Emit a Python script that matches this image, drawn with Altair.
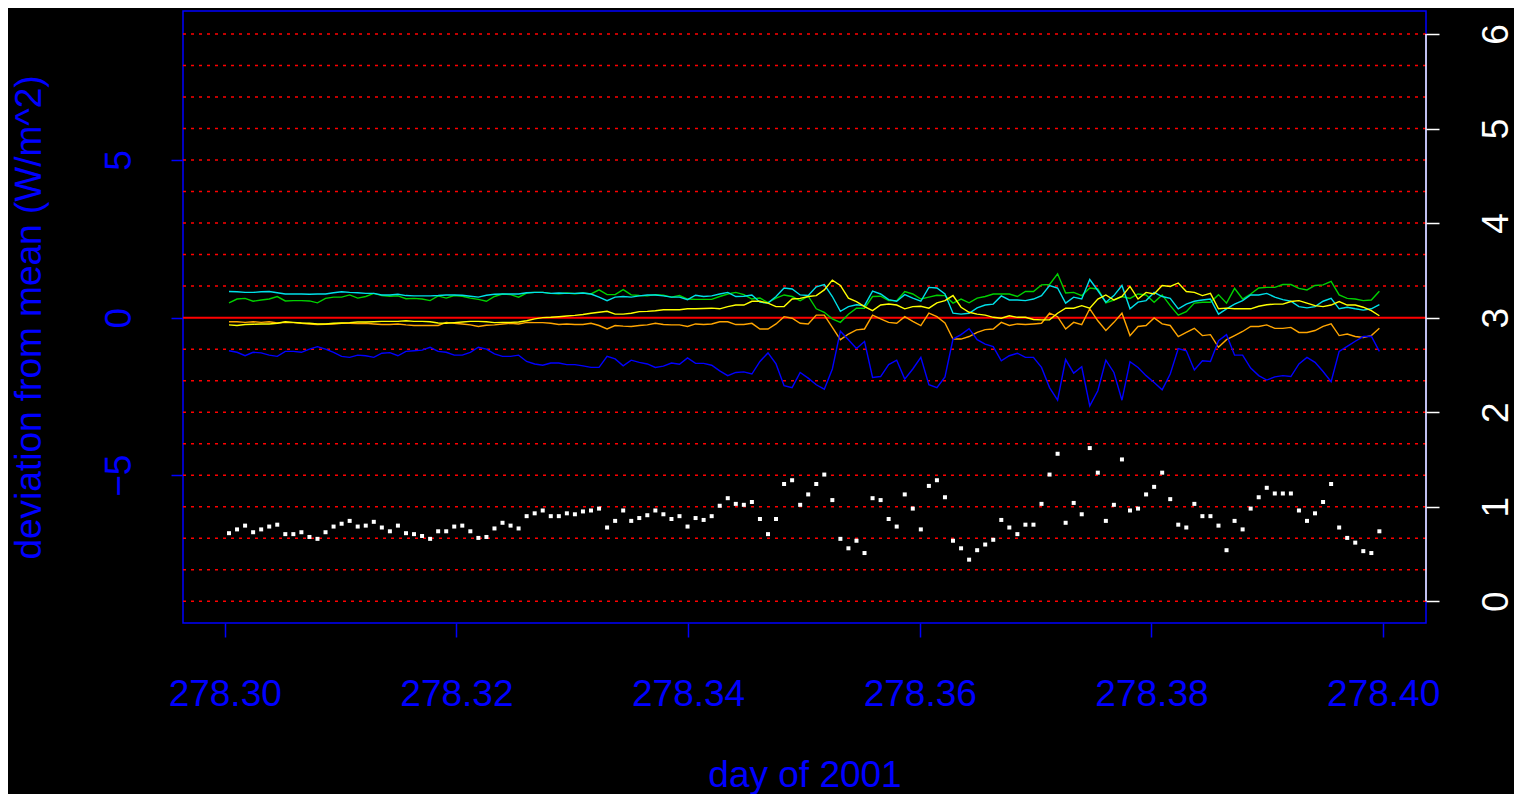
import altair as alt
import pandas as pd

# ---------------- data ----------------
start_day = 278.30037          # first sample (day of 2001)
step_day = 1 / 1440            # one sample per minute

green = [0.47,0.59,0.61,0.52,0.56,0.59,0.67,0.53,0.54,0.54, 0.53,0.47,0.61,0.65,0.65,0.72,0.62,0.67,0.77,0.70,
         0.68,0.69,0.60,0.61,0.59,0.54,0.69,0.62,0.70,0.68, 0.62,0.58,0.52,0.67,0.75,0.73,0.65,0.78,0.80,0.80,
         0.77,0.76,0.78,0.76,0.78,0.75,0.88,
         0.73,0.73,0.89,0.72,0.70,0.69,0.73,0.71,0.65,0.70, 0.59,0.58,0.58,0.58,0.67,0.75,0.80,0.73,0.59,0.62,
         0.48,0.62,0.72,0.67,0.54,0.68,0.28,0.17,-0.04,-0.15, 0.11,0.30,0.30,0.67,0.68,0.54,0.54,0.83,0.75,0.59,
         0.65,0.71,0.70,0.46,0.59,0.47,0.62,0.67,0.75,0.75, 0.75,0.67,
         0.83,0.83,1.04,1.05,1.39,0.78,0.80,0.70,0.94,0.91, 0.47,0.56,0.67,0.61,0.75,0.72,0.49,0.72,0.38,0.08,
         0.19,0.46,0.49,0.49,0.73,0.46,0.93,0.59,0.75,0.94, 0.96,0.96,1.05,1.05,0.93,0.88,1.02,1.04,1.15,0.72,
         0.61,0.59,0.54,0.56,0.84]

cyan = [0.83,0.82,0.80,0.80,0.82,0.83,0.79,0.75,0.75,0.75, 0.74,0.75,0.75,0.79,0.82,0.80,0.79,0.77,0.77,0.72,
        0.72,0.74,0.70,0.69,0.69,0.69,0.70,0.72,0.72,0.71, 0.68,0.65,0.71,0.74,0.75,0.75,0.75,0.79,0.80,0.80,
        0.77,0.78,0.77,0.77,0.78,0.75,0.65,
        0.54,0.65,0.67,0.65,0.69,0.72,0.72,0.69,0.65,0.65, 0.57,0.71,0.67,0.69,0.75,0.80,0.67,0.68,0.72,0.49,
        0.46,0.67,0.94,0.91,0.72,0.70,0.98,1.05,0.67,0.20, 0.35,0.41,0.38,0.84,0.75,0.57,0.52,0.73,0.62,0.52,
        0.96,0.94,0.75,0.14,0.11,0.14,0.31,0.40,0.43,0.69, 0.56,0.56,
        0.54,0.59,0.70,1.02,0.94,0.46,0.65,0.59,1.21,0.86, 0.49,0.70,1.02,0.28,0.49,0.54,0.80,0.67,0.61,0.28,
        0.43,0.52,0.56,0.59,0.11,0.28,0.43,0.54,0.72,0.72, 0.77,0.65,0.57,0.52,0.35,0.31,0.35,0.52,0.61,0.28,
        0.33,0.28,0.24,0.28,0.41]

orange = [-0.13,-0.13,-0.15,-0.13,-0.15,-0.13,-0.17,-0.15,-0.16,-0.18, -0.20,-0.22,-0.21,-0.20,-0.18,-0.18,-0.19,-0.18,-0.20,-0.22,
          -0.22,-0.20,-0.23,-0.25,-0.25,-0.25,-0.25,-0.15,-0.18,-0.20, -0.23,-0.28,-0.24,-0.23,-0.20,-0.18,-0.20,-0.15,-0.16,-0.16,
          -0.18,-0.22,-0.20,-0.22,-0.22,-0.18,-0.25,
          -0.36,-0.25,-0.27,-0.28,-0.25,-0.23,-0.18,-0.22,-0.23,-0.23, -0.28,-0.20,-0.22,-0.20,-0.13,-0.13,-0.22,-0.22,-0.18,-0.36,
          -0.36,-0.20,0.03,-0.02,-0.18,-0.20,0.08,0.08,-0.31,-0.70, -0.52,-0.39,-0.36,0.08,-0.04,-0.15,-0.18,0.03,-0.12,-0.25,
          0.14,0.03,-0.17,-0.68,-0.68,-0.60,-0.47,-0.38,-0.36,-0.15, -0.25,-0.20,
          -0.22,-0.20,-0.18,0.14,0.03,-0.36,-0.15,-0.22,0.28,-0.10, -0.41,-0.15,0.14,-0.57,-0.28,-0.25,-0.01,-0.20,-0.25,-0.60,
          -0.47,-0.34,-0.57,-0.54,-0.94,-0.70,-0.57,-0.44,-0.28,-0.28, -0.23,-0.34,-0.34,-0.31,-0.47,-0.47,-0.41,-0.28,-0.20,-0.57,
          -0.52,-0.60,-0.63,-0.57,-0.34]

yellow = [-0.23,-0.25,-0.22,-0.21,-0.20,-0.20,-0.18,-0.13,-0.15,-0.17, -0.18,-0.20,-0.20,-0.18,-0.17,-0.16,-0.14,-0.14,-0.13,-0.12,
          -0.12,-0.12,-0.10,-0.12,-0.12,-0.13,-0.17,-0.18,-0.16,-0.14, -0.12,-0.12,-0.13,-0.16,-0.15,-0.15,-0.14,-0.10,-0.04,0.00,
          0.01,0.03,0.05,0.07,0.10,0.14,0.17,
          0.20,0.11,0.11,0.14,0.19,0.20,0.22,0.25,0.25,0.25, 0.28,0.28,0.29,0.30,0.28,0.35,0.40,0.40,0.52,0.52,
          0.46,0.35,0.35,0.59,0.61,0.67,0.70,0.88,1.19,1.02, 0.62,0.51,0.35,0.22,0.40,0.43,0.40,0.28,0.35,0.36,
          0.30,0.47,0.54,0.70,0.33,0.17,0.11,0.08,0.01,-0.02, 0.06,0.01,
          0.01,-0.06,-0.07,-0.07,0.14,0.30,0.30,0.38,0.30,0.59, 0.72,0.56,0.67,0.99,0.59,0.80,0.75,1.02,0.99,1.10,
          0.83,0.80,0.70,0.77,0.28,0.30,0.28,0.28,0.28,0.36, 0.41,0.43,0.43,0.51,0.54,0.46,0.38,0.35,0.40,0.51,
          0.40,0.40,0.33,0.22,0.06]

blue = [-1.05,-1.10,-1.21,-1.10,-1.12,-1.19,-1.23,-1.07,-1.07,-1.10, -1.00,-0.92,-1.00,-1.10,-1.23,-1.26,-1.19,-1.21,-1.26,-1.13,
        -1.11,-1.21,-1.07,-1.05,-1.03,-0.94,-1.07,-1.10,-1.19,-1.19, -1.10,-0.94,-1.00,-1.15,-1.23,-1.23,-1.19,-1.39,-1.47,-1.51,
        -1.44,-1.44,-1.49,-1.49,-1.53,-1.58,-1.58,
        -1.23,-1.31,-1.53,-1.35,-1.42,-1.47,-1.58,-1.54,-1.44,-1.48, -1.28,-1.45,-1.45,-1.51,-1.69,-1.84,-1.74,-1.72,-1.79,-1.39,
        -1.12,-1.47,-2.16,-2.22,-1.74,-1.92,-2.13,-2.27,-1.63,-0.43, -0.70,-0.98,-0.76,-1.90,-1.87,-1.49,-1.35,-1.95,-1.63,-1.26,
        -2.13,-2.22,-1.88,-0.68,-0.54,-0.35,-0.70,-0.84,-0.92,-1.37, -1.21,-1.13,
        -1.26,-1.26,-1.58,-2.22,-2.62,-1.33,-1.76,-1.56,-2.80,-2.32, -1.35,-1.74,-2.62,-1.40,-1.58,-1.84,-2.06,-2.29,-1.79,-0.98,
        -1.05,-1.66,-1.37,-1.39,-0.73,-0.54,-1.19,-1.19,-1.60,-1.84, -1.98,-1.88,-1.84,-1.87,-1.47,-1.26,-1.42,-1.71,-2.03,-1.07,
        -0.91,-0.75,-0.60,-0.59,-1.07]

# white points, read on the right-hand axis (0..6)
white_pts = [0.72,0.76,0.80,0.73,0.76,0.79,0.81,0.71,0.71,0.73, 0.68,0.66,0.73,0.79,0.82,0.85,0.79,0.80,0.84,0.78,
             0.74,0.80,0.72,0.71,0.69,0.66,0.74,0.74,0.79,0.80, 0.74,0.67,0.68,0.77,0.83,0.80,0.77,0.90,0.93,0.96,
             0.90,0.90,0.93,0.92,0.95,0.96,0.98,
             0.78,0.85,0.96,0.85,0.88,0.91,0.96,0.92,0.87,0.90, 0.79,0.88,0.86,0.90,1.01,1.09,1.03,1.02,1.05,0.87,
             0.71,0.87,1.24,1.28,1.02,1.13,1.24,1.34,1.07,0.66, 0.56,0.64,0.51,1.09,1.07,0.87,0.79,1.13,0.98,0.76,
             1.22,1.28,1.10,0.64,0.56,0.44,0.54,0.60,0.65,0.86, 0.78,0.71,
             0.81,0.81,1.03,1.34,1.56,0.83,1.04,0.92,1.62,1.36, 0.85,1.02,1.50,0.96,0.98,1.13,1.21,1.36,1.08,0.81,
             0.78,1.03,0.90,0.90,0.80,0.54,0.85,0.76,0.98,1.10, 1.20,1.14,1.14,1.14,0.96,0.85,0.93,1.05,1.24,0.78,
             0.67,0.62,0.53,0.51,0.74]

series_names = ["green", "cyan", "orange", "yellow", "blue"]
series_values = [green, cyan, orange, yellow, blue]
series_colors = ["#00D000", "#00E0E8", "#FFA500", "#FFFF00", "#0000FF"]

x_ticks = [278.30, 278.32, 278.34, 278.36, 278.38, 278.40]
left_ticks = [-5, 0, 5]
right_ticks = [0, 1, 2, 3, 4, 5, 6]
grid_levels = [-9, -8, -7, -6, -5, -4, -3, -2, -1, 1, 2, 3, 4, 5, 6, 7, 8, 9]
zero_level = [0]

x_domain = [278.2964, 278.4037]
left_domain = [-9.69, 9.73]
right_domain = [-0.23, 6.243]

# ---------------- tables ----------------
n = len(blue)
day = [start_day + i * step_day for i in range(n)]
line_tables = [pd.DataFrame({"day": day, "value": vals}) for vals in series_values]
dots_df = pd.DataFrame({"day": day, "level": white_pts})
grid_df = pd.DataFrame({"value": grid_levels})
zero_df = pd.DataFrame({"value": zero_level})
raxis_df = pd.DataFrame({"lo": [min(right_ticks)], "hi": [max(right_ticks)]})

W, H = 1243, 612
BLUE = "#0000FF"
FONT = "Liberation Sans"
FS = 37

x_scale = alt.Scale(domain=x_domain, nice=False, zero=False)
yl_scale = alt.Scale(domain=left_domain, nice=False, zero=False)
yr_scale = alt.Scale(domain=right_domain, nice=False, zero=False)

x_axis = alt.Axis(values=x_ticks, format=".2f", grid=False, domain=False,
                  tickColor=BLUE, tickSize=14, tickWidth=1.5,
                  labelColor=BLUE, labelFont=FONT, labelFontSize=FS,
                  labelBaseline="alphabetic", labelPadding=68, labelFlush=False,
                  labelOverlap=False,
                  title="day of 2001", titleColor=BLUE, titleFont=FONT,
                  titleFontSize=FS, titleFontWeight="normal",
                  titleBaseline="alphabetic", titleY=163)

yl_axis = alt.Axis(values=left_ticks, orient="left", grid=False, domain=False,
                   tickColor=BLUE, tickSize=12, tickWidth=1.5,
                   labelColor=BLUE, labelFont=FONT, labelFontSize=FS,
                   labelAngle=270, labelAlign="center", labelBaseline="alphabetic",
                   labelPadding=41, labelFlush=False, labelOverlap=False,
                   title="deviation from mean (W/m^2)", titleColor=BLUE,
                   titleFont=FONT, titleFontSize=FS, titleFontWeight="normal",
                   titleAngle=270, titleAlign="center", titleBaseline="alphabetic",
                   titleX=-143, titleY=H / 2)

yr_axis = alt.Axis(values=right_ticks, orient="right", grid=False, domain=False,
                   tickColor="white", tickSize=13, tickWidth=1.5,
                   labelColor="white", labelFont=FONT, labelFontSize=FS,
                   labelAngle=270, labelAlign="center", labelBaseline="alphabetic",
                   labelPadding=68, labelFlush=False, labelOverlap=False,
                   title=None)

X = alt.X("day:Q", scale=x_scale, axis=x_axis)

grid = alt.Chart(grid_df).mark_rule(color="#FF0000", strokeWidth=1.5, strokeDash=[3, 5]).encode(
    y=alt.Y("value:Q", scale=yl_scale, axis=yl_axis))
zero = alt.Chart(zero_df).mark_rule(color="#FF0000", strokeWidth=2).encode(
    y=alt.Y("value:Q", scale=yl_scale, axis=yl_axis))

line_layers = []
for df, col in zip(line_tables, series_colors):
    line_layers.append(
        alt.Chart(df).mark_line(color=col, strokeWidth=1.4).encode(
            x=X, y=alt.Y("value:Q", scale=yl_scale, axis=yl_axis)))

left = alt.layer(grid, zero, *line_layers)

dots = alt.Chart(dots_df).mark_square(size=16, color="white", opacity=1, filled=True).encode(
    x=X, y=alt.Y("level:Q", scale=yr_scale, axis=yr_axis))
raxis = alt.Chart(raxis_df).mark_rule(color="white", strokeWidth=1.5).encode(
    x=alt.value(W), y=alt.Y("lo:Q", scale=yr_scale, axis=yr_axis), y2="hi:Q")

right = alt.layer(dots, raxis)

chart = alt.layer(left, right).resolve_scale(y="independent").properties(
    width=W, height=H,
    padding={"left": 175, "top": 3, "right": 88, "bottom": 171},
    autosize=alt.AutoSizeParams(type="none"),
    background="black",
).configure_view(stroke=BLUE, strokeWidth=1.5, fill="black")

chart.save("out.html", embed_options={"renderer": "svg", "actions": False})
